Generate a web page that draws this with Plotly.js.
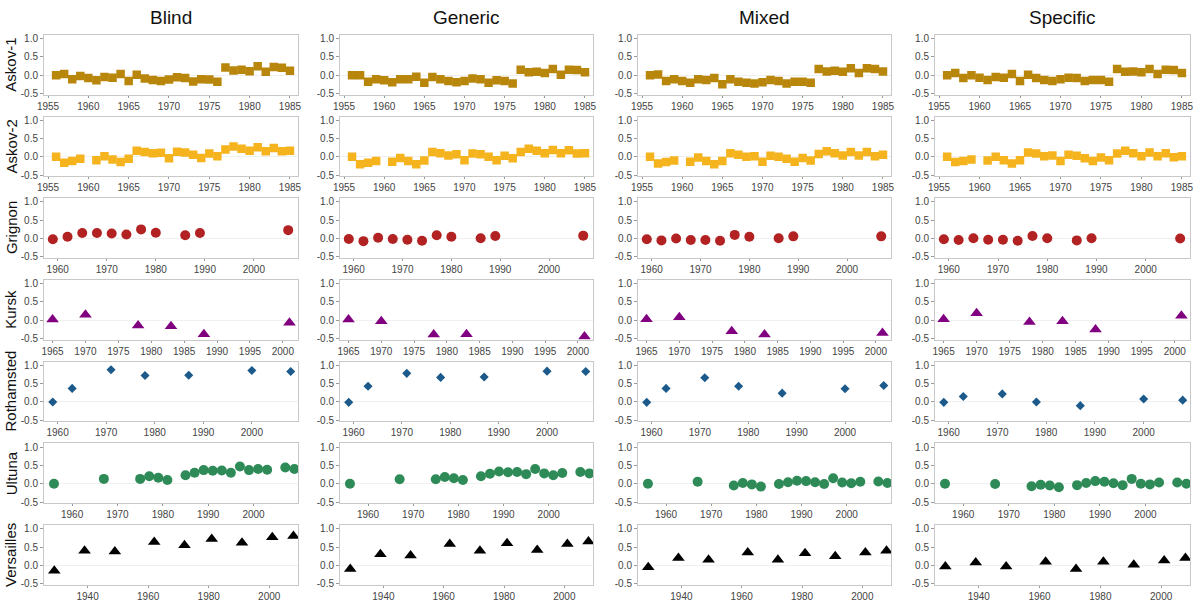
<!DOCTYPE html>
<html>
<head>
<meta charset="utf-8">
<script src="https://cdn.plot.ly/plotly-3.0.1.min.js"></script>
<style>html,body{margin:0;padding:0;background:#fff;}#chart{width:1198px;height:602px;}</style>
</head>
<body>
<div id="chart"></div>
<script>
// ---------- data ----------
const methods = ['Blind', 'Generic', 'Mixed', 'Specific'];
const sites = ['Askov-1', 'Askov-2', 'Grignon', 'Kursk', 'Rothamsted', 'Ultuna', 'Versailles'];

const askov1Years = [1956,1957,1958,1959,1960,1961,1962,1963,1964,1965,1966,1967,1968,1969,1970,1971,1972,1973,1974,1975,1976,1977,1978,1979,1980,1981,1982,1983,1984,1985];
const askov1Blind    = [0.00,0.03,-0.11,-0.02,-0.08,-0.14,-0.05,-0.07,0.03,-0.16,0.01,-0.09,-0.13,-0.16,-0.12,-0.06,-0.08,-0.17,-0.11,-0.12,-0.18,0.21,0.13,0.15,0.11,0.24,0.09,0.22,0.20,0.12];
const askov1Generic  = [0.00,0.00,-0.18,-0.11,-0.14,-0.19,-0.11,-0.11,-0.04,-0.21,-0.05,-0.11,-0.16,-0.19,-0.16,-0.09,-0.11,-0.21,-0.14,-0.16,-0.23,0.15,0.08,0.09,0.06,0.17,0.01,0.15,0.14,0.08];
const askov1Mixed    = [0.00,0.02,-0.16,-0.11,-0.16,-0.21,-0.11,-0.13,-0.08,-0.25,-0.11,-0.18,-0.21,-0.23,-0.19,-0.13,-0.16,-0.23,-0.18,-0.18,-0.21,0.17,0.10,0.12,0.09,0.19,0.06,0.19,0.17,0.10];
const askov1Specific = [0.00,0.06,-0.08,0.00,-0.07,-0.13,-0.05,-0.07,0.03,-0.16,0.01,-0.08,-0.13,-0.16,-0.11,-0.07,-0.08,-0.16,-0.13,-0.13,-0.18,0.17,0.09,0.10,0.08,0.17,0.03,0.15,0.14,0.06];

const askov2Years = [1956,1957,1958,1959,1961,1962,1963,1964,1965,1966,1967,1968,1969,1970,1971,1972,1973,1974,1975,1976,1977,1978,1979,1980,1981,1982,1983,1984,1985];
const askov2Blind    = [0.00,-0.16,-0.11,-0.05,-0.09,0.02,-0.07,-0.14,-0.05,0.17,0.13,0.10,0.11,-0.04,0.14,0.12,0.06,-0.03,0.09,0.02,0.20,0.28,0.22,0.17,0.26,0.15,0.24,0.15,0.17];
const askov2Generic  = [0.00,-0.20,-0.16,-0.11,-0.13,-0.03,-0.11,-0.20,-0.10,0.13,0.10,0.04,0.07,-0.09,0.09,0.07,0.00,-0.09,0.03,-0.04,0.13,0.22,0.17,0.10,0.19,0.10,0.18,0.09,0.10];
const askov2Mixed    = [0.00,-0.18,-0.14,-0.10,-0.13,-0.02,-0.11,-0.20,-0.11,0.10,0.06,0.00,0.02,-0.13,0.03,0.00,-0.05,-0.13,-0.03,-0.10,0.08,0.15,0.10,0.04,0.13,0.04,0.13,0.02,0.06];
const askov2Specific = [0.00,-0.14,-0.11,-0.07,-0.10,0.00,-0.09,-0.18,-0.09,0.12,0.09,0.02,0.04,-0.11,0.06,0.03,-0.04,-0.11,-0.02,-0.09,0.09,0.17,0.10,0.02,0.12,0.02,0.10,-0.01,0.02];

const grignonYears = [1959,1962,1965,1968,1971,1974,1977,1980,1986,1989,2007];
const grignonBlind    = [-0.02,0.05,0.15,0.15,0.14,0.11,0.25,0.16,0.09,0.15,0.23];
const grignonGeneric  = [-0.01,-0.07,0.02,-0.01,-0.03,-0.06,0.09,0.05,0.01,0.07,0.08];
const grignonMixed    = [-0.02,-0.05,0.00,-0.04,-0.04,-0.06,0.10,0.05,0.01,0.06,0.06];
const grignonSpecific = [-0.02,-0.04,0.01,-0.03,-0.03,-0.06,0.07,0.01,-0.05,0.01,0.00];

const kurskYears = [1965,1970,1978,1983,1988,2001];
const kurskBlind    = [0.02,0.15,-0.14,-0.16,-0.38,-0.07];
const kurskGeneric  = [0.02,-0.03,-0.39,-0.38,null,-0.44];
const kurskMixed    = [0.03,0.08,-0.30,-0.39,null,-0.35];
const kurskSpecific = [0.03,0.19,-0.05,-0.03,-0.25,0.12];

const rothamstedYears = [1959,1963,1971,1978,1987,2000,2008];
const rothamstedBlind    = [0.00,0.37,0.88,0.72,0.73,0.86,0.83];
const rothamstedGeneric  = [-0.01,0.43,0.78,0.67,0.68,0.84,0.83];
const rothamstedMixed    = [-0.01,0.37,0.66,0.43,0.24,0.36,0.45];
const rothamstedSpecific = [-0.01,0.15,0.22,0.00,-0.10,0.08,0.05];

const ultunaYears = [1956,1967,1975,1977,1979,1981,1985,1987,1989,1991,1993,1995,1997,1999,2001,2003,2007,2009];
const ultunaBlind    = [0.00,0.13,0.13,0.20,0.16,0.10,0.23,0.30,0.37,0.35,0.36,0.30,0.47,0.37,0.40,0.38,0.44,0.40];
const ultunaGeneric  = [0.00,0.12,0.12,0.18,0.15,0.10,0.20,0.27,0.33,0.31,0.32,0.26,0.40,0.28,0.23,0.29,0.32,0.28];
const ultunaMixed    = [0.00,0.05,-0.05,0.02,-0.02,-0.08,-0.01,0.04,0.08,0.07,0.04,-0.01,0.15,0.03,0.01,0.05,0.06,0.02];
const ultunaSpecific = [0.00,-0.01,-0.07,-0.03,-0.05,-0.10,-0.04,0.02,0.07,0.05,0.01,-0.04,0.13,0.00,-0.02,0.03,0.03,0.00];

const versaillesYears = [1929,1939,1949,1962,1972,1981,1991,2001,2008];
const versaillesBlind    = [-0.15,0.40,0.38,0.64,0.55,0.72,0.62,0.77,0.80];
const versaillesGeneric  = [-0.10,0.30,0.27,0.58,0.40,0.60,0.42,0.58,0.65];
const versaillesMixed    = [-0.05,0.20,0.15,0.35,0.15,0.33,0.25,0.35,0.40];
const versaillesSpecific = [-0.03,0.08,-0.03,0.10,-0.10,0.10,0.02,0.13,0.20];

const askovTicks = [1955, 1960, 1965, 1970, 1975, 1980, 1985];
const decadeTicks = [1960, 1970, 1980, 1990, 2000];
const kurskTicks = [1965, 1970, 1975, 1980, 1985, 1990, 1995, 2000];
const versaillesTicks = [1940, 1960, 1980, 2000];
const yTickVals = [-0.5, 0, 0.5, 1.0];
const yTickText = ['-0.5', '0.0', '0.5', '1.0'];

// ---------- assembly ----------
const siteData = {
  'Askov-1':   {x: askov1Years, s: [askov1Blind, askov1Generic, askov1Mixed, askov1Specific], ticks: askovTicks},
  'Askov-2':   {x: askov2Years, s: [askov2Blind, askov2Generic, askov2Mixed, askov2Specific], ticks: askovTicks},
  'Grignon':   {x: grignonYears, s: [grignonBlind, grignonGeneric, grignonMixed, grignonSpecific], ticks: decadeTicks},
  'Kursk':     {x: kurskYears, s: [kurskBlind, kurskGeneric, kurskMixed, kurskSpecific], ticks: kurskTicks},
  'Rothamsted':{x: rothamstedYears, s: [rothamstedBlind, rothamstedGeneric, rothamstedMixed, rothamstedSpecific], ticks: decadeTicks},
  'Ultuna':    {x: ultunaYears, s: [ultunaBlind, ultunaGeneric, ultunaMixed, ultunaSpecific], ticks: decadeTicks},
  'Versailles':{x: versaillesYears, s: [versaillesBlind, versaillesGeneric, versaillesMixed, versaillesSpecific], ticks: versaillesTicks}
};

const siteStyle = {
  'Askov-1':   {symbol: 'square', color: '#B8860B', size: 8.5, range: [1954.5, 1986.0]},
  'Askov-2':   {symbol: 'square', color: '#F5B41E', size: 8.5, range: [1954.5, 1986.0]},
  'Grignon':   {symbol: 'circle', color: '#B22222', size: 10, range: [1957.2, 2009.0]},
  'Kursk':     {symbol: 'triangle-up', color: '#800080', size: 11, range: [1963.7, 2002.3]},
  'Rothamsted':{symbol: 'diamond', color: '#1B5A8A', size: 7, range: [1957.2, 2009.5]},
  'Ultuna':    {symbol: 'circle', color: '#2E8B57', size: 10, range: [1953.8, 2009.8]},
  'Versailles':{symbol: 'triangle-up', color: '#000000', size: 11, range: [1925.6, 2009.5]}
};

const W = 1198, H = 602;
const colPx = [[44, 298], [340, 593], [638, 891], [935, 1190]];
const yMin = -0.53, yMax = 1.1;

const traces = [];
const layout = {
  width: W, height: H,
  margin: {l: 0, r: 0, t: 0, b: 0},
  paper_bgcolor: '#fff', plot_bgcolor: '#fff',
  showlegend: false,
  font: {family: 'Liberation Sans, Arial, sans-serif', color: '#444', size: 10},
  annotations: []
};

sites.forEach((site, r) => {
  const y1 = 38.5 + 81.7 * r;          // pixel of 1.0
  const unit = 55 / 1.5;
  const top = y1 - (yMax - 1) * unit;
  const bottom = y1 + 1.5 * unit + (-0.5 - yMin) * unit;
  const yDom = [1 - bottom / H, 1 - top / H];
  const st = siteStyle[site];
  methods.forEach((m, c) => {
    const k = r * 4 + c + 1;
    const xa = k === 1 ? 'xaxis' : 'xaxis' + k;
    const ya = k === 1 ? 'yaxis' : 'yaxis' + k;
    traces.push({
      type: 'scatter', mode: 'markers',
      x: siteData[site].x, y: siteData[site].s[c],
      xaxis: 'x' + (k === 1 ? '' : k), yaxis: 'y' + (k === 1 ? '' : k),
      marker: {symbol: st.symbol, color: st.color, size: st.size, line: {width: 0}},
      hoverinfo: 'x+y', cliponaxis: true
    });
    layout[xa] = {
      domain: [colPx[c][0] / W, colPx[c][1] / W],
      anchor: 'y' + (k === 1 ? '' : k),
      range: st.range, tickmode: 'array', tickvals: siteData[site].ticks,
      ticktext: siteData[site].ticks.map(String),
      showgrid: false, zeroline: false,
      showline: true, mirror: true, linecolor: '#c8c8c8', linewidth: 1,
      ticks: 'outside', ticklen: 2, tickcolor: '#999',
      tickfont: {size: 10, color: '#444'}, fixedrange: true
    };
    layout[ya] = {
      domain: yDom,
      anchor: 'x' + (k === 1 ? '' : k),
      range: [yMin, yMax],
      tickmode: 'array', tickvals: yTickVals, ticktext: yTickText,
      showgrid: false, zeroline: true, zerolinecolor: '#f0f0f0', zerolinewidth: 1,
      showline: true, mirror: true, linecolor: '#c8c8c8', linewidth: 1,
      ticks: 'outside', ticklen: 3, tickcolor: '#999',
      tickfont: {size: 10, color: '#444'}, fixedrange: true
    };
  });
  layout.annotations.push({
    text: site, xref: 'paper', yref: 'paper',
    x: 11 / W, y: (yDom[0] + yDom[1]) / 2, textangle: -90,
    xanchor: 'center', yanchor: 'middle', showarrow: false,
    font: {size: 15, color: '#111'}
  });
});

methods.forEach((m, c) => {
  layout.annotations.push({
    text: m, xref: 'paper', yref: 'paper',
    x: (colPx[c][0] + colPx[c][1]) / 2 / W, y: 1 - 18 / H,
    xanchor: 'center', yanchor: 'middle', showarrow: false,
    font: {size: 19, color: '#111'}
  });
});

Plotly.newPlot('chart', traces, layout, {displayModeBar: false, staticPlot: true});
</script>
</body>
</html>
